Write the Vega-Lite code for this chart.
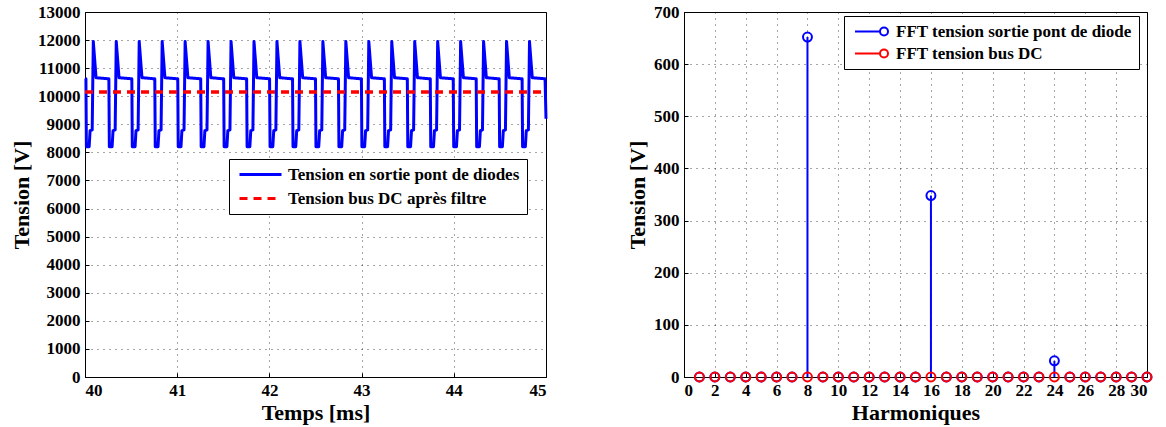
{
  "$schema": "https://vega.github.io/schema/vega-lite/v6.json",
  "padding": {"left": 10, "top": 2, "right": 8, "bottom": 5},
  "spacing": 72,
  "background": "white",
  "config": {
    "font": "Liberation Serif",
    "view": {"stroke": "black", "strokeWidth": 1},
    "axis": {
      "labelFont": "Liberation Serif", "labelFontWeight": "bold", "labelFontSize": 17, "labelColor": "black",
      "titleFont": "Liberation Serif", "titleFontWeight": "bold", "titleFontSize": 22, "titleColor": "black",
      "domainColor": "black", "ticks": true, "tickSize": -4, "tickColor": "black", "labelPadding": 9, "titlePadding": 4,
      "gridColor": "#000", "gridDash": [1, 5], "gridOpacity": 0.7
    },
    "legend": {
      "labelFont": "Liberation Serif", "labelFontWeight": "bold", "labelFontSize": 17, "labelColor": "black",
      "strokeColor": "black", "fillColor": "white", "padding": 7, "cornerRadius": 0, "rowPadding": 6,
      "labelLimit": 400
    }
  },
  "resolve": {"scale": {"color": "independent", "strokeDash": "independent"}},
  "datasets": {
    "diode": [
      {"t":40,"v":10640},
      {"t":40.010,"v":10620},{"t":40.015,"v":8200},{"t":40.045,"v":8200},{"t":40.055,"v":8770},{"t":40.078,"v":8800},{"t":40.090,"v":11950},{"t":40.120,"v":10660},
      {"t":40.259,"v":10620},{"t":40.264,"v":8200},{"t":40.294,"v":8200},{"t":40.304,"v":8770},{"t":40.327,"v":8800},{"t":40.339,"v":11950},{"t":40.369,"v":10660},
      {"t":40.508,"v":10620},{"t":40.513,"v":8200},{"t":40.543,"v":8200},{"t":40.553,"v":8770},{"t":40.576,"v":8800},{"t":40.588,"v":11950},{"t":40.618,"v":10660},
      {"t":40.757,"v":10620},{"t":40.762,"v":8200},{"t":40.792,"v":8200},{"t":40.802,"v":8770},{"t":40.825,"v":8800},{"t":40.837,"v":11950},{"t":40.867,"v":10660},
      {"t":41.006,"v":10620},{"t":41.011,"v":8200},{"t":41.041,"v":8200},{"t":41.051,"v":8770},{"t":41.074,"v":8800},{"t":41.086,"v":11950},{"t":41.116,"v":10660},
      {"t":41.255,"v":10620},{"t":41.260,"v":8200},{"t":41.290,"v":8200},{"t":41.300,"v":8770},{"t":41.323,"v":8800},{"t":41.335,"v":11950},{"t":41.365,"v":10660},
      {"t":41.504,"v":10620},{"t":41.509,"v":8200},{"t":41.539,"v":8200},{"t":41.549,"v":8770},{"t":41.572,"v":8800},{"t":41.584,"v":11950},{"t":41.614,"v":10660},
      {"t":41.753,"v":10620},{"t":41.758,"v":8200},{"t":41.788,"v":8200},{"t":41.798,"v":8770},{"t":41.821,"v":8800},{"t":41.833,"v":11950},{"t":41.863,"v":10660},
      {"t":42.002,"v":10620},{"t":42.007,"v":8200},{"t":42.037,"v":8200},{"t":42.047,"v":8770},{"t":42.070,"v":8800},{"t":42.082,"v":11950},{"t":42.112,"v":10660},
      {"t":42.251,"v":10620},{"t":42.256,"v":8200},{"t":42.286,"v":8200},{"t":42.296,"v":8770},{"t":42.319,"v":8800},{"t":42.331,"v":11950},{"t":42.361,"v":10660},
      {"t":42.500,"v":10620},{"t":42.505,"v":8200},{"t":42.535,"v":8200},{"t":42.545,"v":8770},{"t":42.568,"v":8800},{"t":42.580,"v":11950},{"t":42.610,"v":10660},
      {"t":42.749,"v":10620},{"t":42.754,"v":8200},{"t":42.784,"v":8200},{"t":42.794,"v":8770},{"t":42.817,"v":8800},{"t":42.829,"v":11950},{"t":42.859,"v":10660},
      {"t":42.998,"v":10620},{"t":43.003,"v":8200},{"t":43.033,"v":8200},{"t":43.043,"v":8770},{"t":43.066,"v":8800},{"t":43.078,"v":11950},{"t":43.108,"v":10660},
      {"t":43.247,"v":10620},{"t":43.252,"v":8200},{"t":43.282,"v":8200},{"t":43.292,"v":8770},{"t":43.315,"v":8800},{"t":43.327,"v":11950},{"t":43.357,"v":10660},
      {"t":43.496,"v":10620},{"t":43.501,"v":8200},{"t":43.531,"v":8200},{"t":43.541,"v":8770},{"t":43.564,"v":8800},{"t":43.576,"v":11950},{"t":43.606,"v":10660},
      {"t":43.745,"v":10620},{"t":43.750,"v":8200},{"t":43.780,"v":8200},{"t":43.790,"v":8770},{"t":43.813,"v":8800},{"t":43.825,"v":11950},{"t":43.855,"v":10660},
      {"t":43.994,"v":10620},{"t":43.999,"v":8200},{"t":44.029,"v":8200},{"t":44.039,"v":8770},{"t":44.062,"v":8800},{"t":44.074,"v":11950},{"t":44.104,"v":10660},
      {"t":44.243,"v":10620},{"t":44.248,"v":8200},{"t":44.278,"v":8200},{"t":44.288,"v":8770},{"t":44.311,"v":8800},{"t":44.323,"v":11950},{"t":44.353,"v":10660},
      {"t":44.492,"v":10620},{"t":44.497,"v":8200},{"t":44.527,"v":8200},{"t":44.537,"v":8770},{"t":44.560,"v":8800},{"t":44.572,"v":11950},{"t":44.602,"v":10660},
      {"t":44.741,"v":10620},{"t":44.746,"v":8200},{"t":44.776,"v":8200},{"t":44.786,"v":8770},{"t":44.809,"v":8800},{"t":44.821,"v":11950},{"t":44.851,"v":10660},
      {"t":44.990,"v":10620},{"t":45,"v":9200}
    ],
    "bus": [{"t":40,"v":10150},{"t":45,"v":10150}],
    "fftd": [
      {"h":1,"v":0},{"h":2,"v":0},{"h":3,"v":0},{"h":4,"v":0},{"h":5,"v":0},{"h":6,"v":0},{"h":7,"v":0},{"h":8,"v":652},
      {"h":9,"v":0},{"h":10,"v":0},{"h":11,"v":0},{"h":12,"v":0},{"h":13,"v":0},{"h":14,"v":0},{"h":15,"v":0},{"h":16,"v":348},
      {"h":17,"v":0},{"h":18,"v":0},{"h":19,"v":0},{"h":20,"v":0},{"h":21,"v":0},{"h":22,"v":0},{"h":23,"v":0},{"h":24,"v":31},
      {"h":25,"v":0},{"h":26,"v":0},{"h":27,"v":0},{"h":28,"v":0},{"h":29,"v":0},{"h":30,"v":0}
    ],
    "fftb": [
      {"h":1,"v":0},{"h":2,"v":0},{"h":3,"v":0},{"h":4,"v":0},{"h":5,"v":0},{"h":6,"v":0},{"h":7,"v":0},{"h":8,"v":0},
      {"h":9,"v":0},{"h":10,"v":0},{"h":11,"v":0},{"h":12,"v":0},{"h":13,"v":0},{"h":14,"v":0},{"h":15,"v":0},{"h":16,"v":0},
      {"h":17,"v":0},{"h":18,"v":0},{"h":19,"v":0},{"h":20,"v":0},{"h":21,"v":0},{"h":22,"v":0},{"h":23,"v":0},{"h":24,"v":0},
      {"h":25,"v":0},{"h":26,"v":0},{"h":27,"v":0},{"h":28,"v":0},{"h":29,"v":0},{"h":30,"v":0}
    ]
  },
  "hconcat": [
    {
      "width": 461,
      "height": 365,
      "encoding": {
        "x": {"field": "t", "type": "quantitative", "scale": {"domain": [40, 45], "nice": false},
              "axis": {"values": [40, 41, 42, 43, 44, 45], "format": "d", "title": "Temps [ms]"}},
        "y": {"field": "v", "type": "quantitative", "scale": {"domain": [0, 13000], "nice": false},
              "axis": {"values": [0,1000,2000,3000,4000,5000,6000,7000,8000,9000,10000,11000,12000,13000], "format": "d", "title": "Tension [V]"}}
      },
      "layer": [
        {
          "data": {"name": "diode"},
          "mark": {"type": "line", "strokeWidth": 3, "strokeJoin": "round"},
          "encoding": {
            "color": {"datum": "Tension en sortie pont de diodes", "type": "nominal",
                      "scale": {"domain": ["Tension en sortie pont de diodes", "Tension bus DC après filtre"], "range": ["#0000ff", "#ff0000"]},
                      "legend": {"orient": "none", "legendX": 144, "legendY": 147, "title": null, "symbolType": "M-4.2,0L4.2,0", "symbolSize": 100, "symbolStrokeWidth": 3, "symbolOffset": 16, "labelOffset": 19}},
            "strokeDash": {"datum": "Tension en sortie pont de diodes", "type": "nominal",
                      "scale": {"domain": ["Tension en sortie pont de diodes", "Tension bus DC après filtre"], "range": [[1, 0], [8, 6]]},
                      "legend": {"orient": "none", "legendX": 144, "legendY": 147, "title": null, "symbolType": "M-4.2,0L4.2,0", "symbolSize": 100, "symbolStrokeWidth": 3, "symbolOffset": 16, "labelOffset": 19}}
          }
        },
        {
          "data": {"name": "bus"},
          "mark": {"type": "line", "strokeWidth": 3.5},
          "encoding": {
            "color": {"datum": "Tension bus DC après filtre", "type": "nominal"},
            "strokeDash": {"datum": "Tension bus DC après filtre", "type": "nominal"}
          }
        }
      ]
    },
    {
      "width": 463,
      "height": 365,
      "encoding": {
        "x": {"field": "h", "type": "quantitative", "scale": {"domain": [0, 30], "nice": false},
              "axis": {"values": [0,2,4,6,8,10,12,14,16,18,20,22,24,26,28,30], "format": "d", "title": "Harmoniques"}},
        "y": {"field": "v", "type": "quantitative", "scale": {"domain": [0, 700], "nice": false},
              "axis": {"values": [0,100,200,300,400,500,600,700], "format": "d", "title": "Tension [V]"}}
      },
      "layer": [
        {
          "data": {"name": "fftd"},
          "mark": {"type": "rule", "strokeWidth": 2},
          "encoding": {
            "y2": {"datum": 0},
            "color": {"datum": "FFT tension sortie pont de diode", "type": "nominal",
                      "scale": {"domain": ["FFT tension sortie pont de diode", "FFT tension bus DC"], "range": ["#0000ff", "#ff0000"]},
                      "legend": {"orient": "none", "legendX": 160, "legendY": 4, "title": null,
                                 "symbolType": "M-4.125,0L2.125,0M4.125,0A1,1,0,1,1,2.125,0A1,1,0,1,1,4.125,0",
                                 "symbolSize": 64, "symbolStrokeWidth": 2, "symbolFillColor": "transparent", "symbolOffset": 12, "labelOffset": 16, "rowPadding": 4}}
          }
        },
        {
          "data": {"name": "fftd"},
          "mark": {"type": "point", "shape": "circle", "filled": false, "size": 80, "strokeWidth": 2, "opacity": 1, "clip": false},
          "encoding": {"color": {"datum": "FFT tension sortie pont de diode", "type": "nominal"}}
        },
        {
          "data": {"name": "fftb"},
          "mark": {"type": "rule", "strokeWidth": 2},
          "encoding": {"y2": {"datum": 0}, "color": {"datum": "FFT tension bus DC", "type": "nominal"}}
        },
        {
          "data": {"name": "fftb"},
          "mark": {"type": "point", "shape": "circle", "filled": false, "size": 80, "strokeWidth": 2, "opacity": 1, "clip": false},
          "encoding": {"color": {"datum": "FFT tension bus DC", "type": "nominal"}}
        }
      ]
    }
  ]
}
